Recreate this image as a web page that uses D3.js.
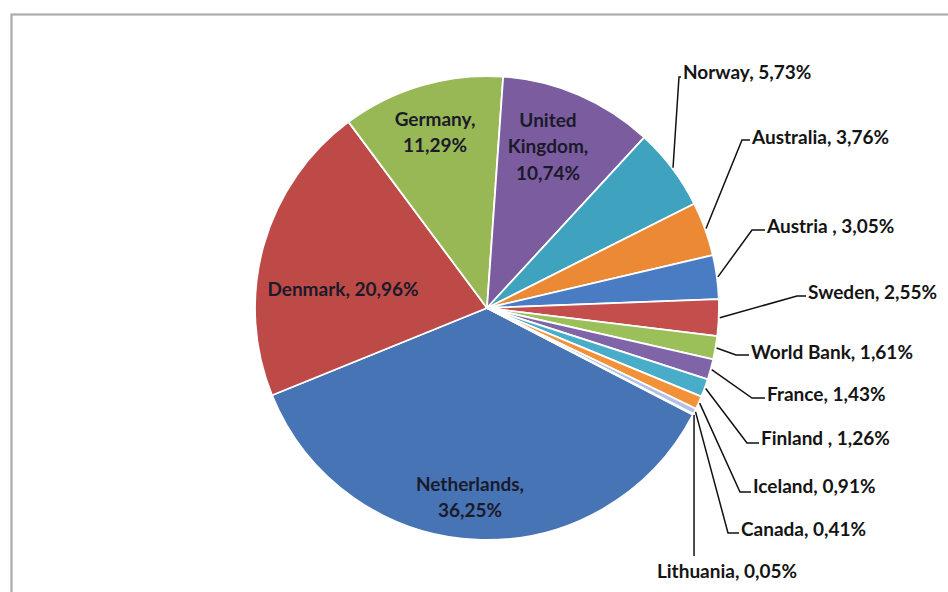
<!DOCTYPE html>
<html>
<head>
<meta charset="utf-8">
<script src="https://cdn.jsdelivr.net/npm/d3@7/dist/d3.min.js"></script>
<style>
  html, body { margin: 0; padding: 0; background: #ffffff; }
  svg { display: block; }
  text { font-family: "Lato", "Open Sans", sans-serif; font-weight: 700; fill: #141414; }
</style>
</head>
<body>
<svg id="chart" width="948" height="592"></svg>
<script>
// Share of contributions by donor (percent)
const donors = ["Netherlands", "Denmark", "Germany", "United Kingdom", "Norway", "Australia",
                "Austria ", "Sweden", "World Bank", "France", "Finland ", "Iceland", "Canada", "Lithuania"];
const shares = [36.25, 20.96, 11.29, 10.74, 5.73, 3.76, 3.05, 2.55, 1.61, 1.43, 1.26, 0.91, 0.41, 0.05];
const sliceColors = ["#4674b5", "#bd4a47", "#98b755", "#7b5d9f", "#3fa2be", "#ec8935",
                     "#4a7cc4", "#c44e4c", "#9bc05a", "#8064a8", "#49adc9", "#f29137", "#b4c1e6", "#e4aaa8"];

// Slices whose label sits inside the pie, with the lines the text is split into
const insideLines = {
  "Netherlands": ["Netherlands,", "{v}"],
  "Denmark": ["Denmark, {v}"],
  "Germany": ["Germany,", "{v}"],
  "United Kingdom": ["United", "Kingdom,", "{v}"]
};

// Layout of the figure
const cx = 487, cy = 308, R = 232;
const startDeg = 117.4;
const lineGap = 26.5;

// Inside label centres (first line)
const insidePos = {
  "Netherlands": [470, 484],
  "Denmark": [343, 289],
  "Germany": [435, 119],
  "United Kingdom": [548, 120]
};

// Callout labels: text start (x, middle y) and leader elbow
const calloutPos = {
  "Norway":     { tx: 683, ty: 72,  ex: 679, ey: 77 },
  "Australia":  { tx: 752, ty: 137, ex: 742, ey: 140 },
  "Austria ":   { tx: 767, ty: 226, ex: 752, ey: 230 },
  "Sweden":     { tx: 808, ty: 292, ex: 797, ey: 296 },
  "World Bank": { tx: 751, ty: 352, ex: 736, ey: 355 },
  "France":     { tx: 767, ty: 394, ex: 752, ey: 398 },
  "Finland ":   { tx: 761, ty: 438, ex: 747, ey: 443 },
  "Iceland":    { tx: 753, ty: 486, ex: 740, ey: 492 },
  "Canada":     { tx: 741, ty: 529, ex: 728, ey: 533 },
  "Lithuania":  { tx: 727, ty: 571, ex: null, ey: 556, below: true }
};

const fmt = v => v.toFixed(2).replace(".", ",") + "%";

const svg = d3.select("#chart");

// chart frame
svg.append("rect")
  .attr("x", 11.5).attr("y", 14.5)
  .attr("width", 960).attr("height", 600)
  .attr("fill", "#ffffff")
  .attr("stroke", "#ababab")
  .attr("stroke-width", 2.2);

const rows = donors.map((d, i) => ({ name: d, value: shares[i], color: sliceColors[i] }));

const pie = d3.pie()
  .sort(null)
  .value(d => d.value)
  .startAngle(startDeg * Math.PI / 180)
  .endAngle(startDeg * Math.PI / 180 + 2 * Math.PI);

const arcs = pie(rows);
const arc = d3.arc().innerRadius(0).outerRadius(R);

const g = svg.append("g").attr("transform", `translate(${cx},${cy})`);

g.selectAll("path.slice")
  .data(arcs)
  .join("path")
  .attr("class", "slice")
  .attr("d", arc)
  .attr("fill", d => d.data.color)
  .attr("stroke", "#ffffff")
  .attr("stroke-width", 1.8)
  .attr("stroke-linejoin", "round");

// inside labels
arcs.filter(d => insideLines[d.data.name]).forEach(d => {
  const [x, y] = insidePos[d.data.name];
  const t = svg.append("text")
    .attr("text-anchor", "middle")
    .attr("font-size", 19)
    .style("fill", "#1a1a2a");
  insideLines[d.data.name].forEach((ln, k) => {
    t.append("tspan")
      .attr("x", x)
      .attr("y", y + k * lineGap)
      .attr("dy", "0.35em")
      .text(ln.replace("{v}", fmt(d.data.value)));
  });
});

// callout labels with leader lines
const mid = d => (d.startAngle + d.endAngle) / 2;
arcs.filter(d => calloutPos[d.data.name]).forEach(d => {
  const p = calloutPos[d.data.name];
  const a = mid(d);
  const sx = cx + (R + 1) * Math.sin(a);
  const sy = cy - (R + 1) * Math.cos(a);
  let pts;
  if (p.below) {
    pts = [[sx, sy], [sx, p.ey]];
  } else {
    pts = [[sx, sy], [p.ex, p.ey], [p.tx - 2, p.ey]];
  }
  svg.append("path")
    .attr("d", d3.line()(pts))
    .attr("fill", "none")
    .attr("stroke", "#111111")
    .attr("stroke-width", 1.5);
  svg.append("text")
    .attr("x", p.tx)
    .attr("y", p.ty)
    .attr("dy", "0.35em")
    .attr("text-anchor", p.below ? "middle" : "start")
    .attr("font-size", 19)
    .text(d.data.name + ", " + fmt(d.data.value));
});
</script>
</body>
</html>
